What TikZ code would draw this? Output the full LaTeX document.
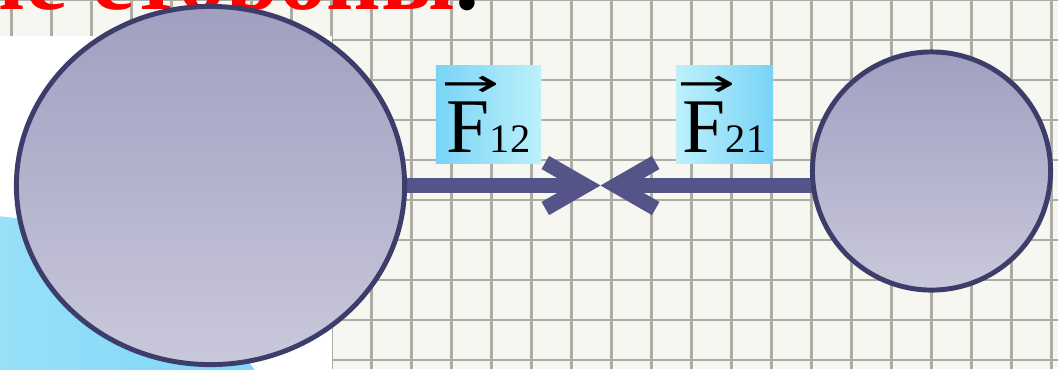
\documentclass[tikz,border=0pt]{standalone}
\usepackage{fontspec}
\setmainfont{Liberation Serif}
\newfontfamily\arrowfont{DejaVu Sans}
\usetikzlibrary{shapes,arrows.meta,positioning}
\definecolor{paper}{HTML}{F7F7F2}
\definecolor{gridgray}{HTML}{ADADA5}
\definecolor{rimblue}{HTML}{3D3D6B}
\definecolor{shaftblue}{HTML}{545489}
\definecolor{balltop}{HTML}{A09FC0}
\definecolor{ballbot}{HTML}{C9C8DB}
\definecolor{skydark}{HTML}{78D4F6}
\definecolor{skylight}{HTML}{BDF0FB}
\pgfdeclarelayer{paperlayer}
\pgfdeclarelayer{shaftlayer}
\pgfsetlayers{paperlayer,shaftlayer,main}
\newcommand{\vecF}{\makebox[0pt][l]{\hspace{-1.5pt}\raisebox{16pt}{%
    \arrowfont\scalebox{0.9}[0.5]{→}}}F}

\begin{document}
\begin{tikzpicture}[x=0.01cm,y=-0.01cm,
    ball/.style={draw=rimblue,line width=1.4pt,top color=balltop,
        bottom color=ballbot,inner sep=0pt},
    force/.style={draw=shaftblue,line width=4.3pt,
        -{Straight Barb[sharp,length=0.4cm,width=0.46cm]}},
    tag/.style={inner sep=0pt,minimum height=0.97cm,
        font=\fontsize{22}{24}\selectfont},
    gridline/.style={draw=gridgray,line width=0.7pt}]
    \clip (0,0) rectangle (1058,369);
    \begin{pgfonlayer}{paperlayer}
    \fill[paper] (0,0) rectangle (1058,369);
    \foreach \k in {0,...,26}
        \draw[gridline] (11.7+40*\k,0) -- (11.7+40*\k,369);
    \foreach \k in {0,...,9}
        \draw[gridline] (0,40*\k) -- (1058,40*\k);
    \fill[white] (0,36) rectangle (332,369);
    \begin{scope}
        \clip (0,36) rectangle (332,369);
        \shade[left color=skylight,right color=skydark]
            (-40,570) circle (356);
    \end{scope}
    \node[anchor=base east,inner sep=0pt,
        font=\bfseries\fontsize{27}{30}\selectfont] (title) at (480,9)
        {\textcolor{red}{противоположные стороны}.};
    \end{pgfonlayer}
%
    \node[ball,ellipse,minimum width=3.88cm,minimum height=3.58cm]
        (big) at (210.5,185.5) {};
    \node[ball,circle,minimum size=2.38cm]
        (small) at (931.5,171) {};
    \coordinate (meet) at (600.5,185.5);
    \begin{pgfonlayer}{shaftlayer}
    \draw[force] (big.center |- meet) -- (meet);
    \draw[force] (small.center |- meet) -- (meet);
    \end{pgfonlayer}
%
    \node[tag,minimum width=1.05cm,left color=skydark,right color=skylight]
        (f12) at (488.5,114.5) {\vecF{\fontsize{11.5}{13}\selectfont 12}};
    \node[tag,minimum width=0.97cm,left color=skylight,right color=skydark]
        (f21) at (724.5,114.5) {\vecF{\fontsize{11.5}{13}\selectfont 21}};
\end{tikzpicture}
\end{document}
